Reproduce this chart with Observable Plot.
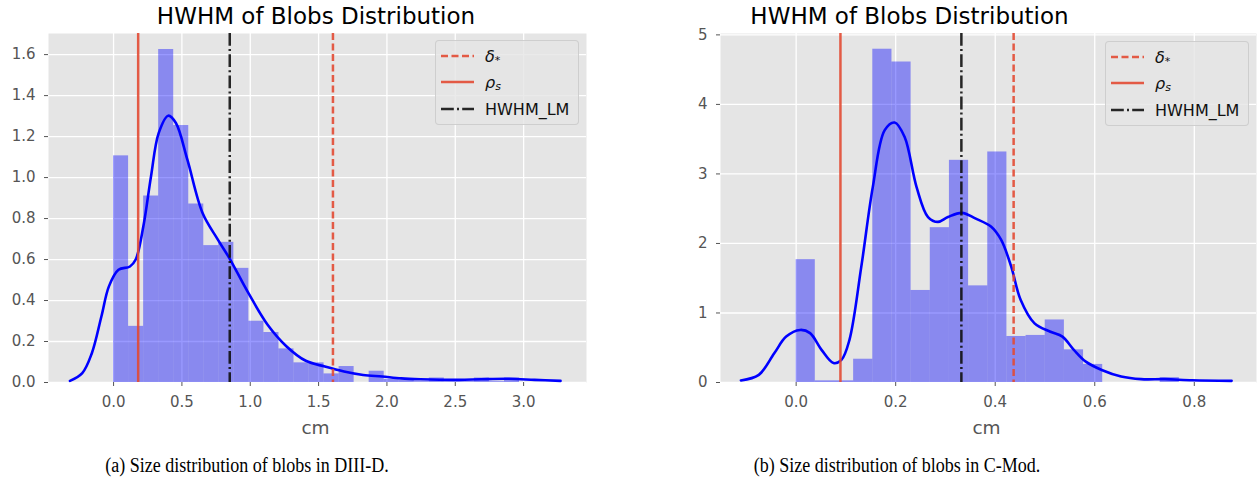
<!DOCTYPE html>
<html><head><meta charset="utf-8">
<script src="https://cdn.jsdelivr.net/npm/d3@7"></script>
<script src="https://cdn.jsdelivr.net/npm/@observablehq/plot@0.6"></script>
<style>
body{margin:0;background:#fff;}
#root{position:relative;width:1258px;height:496px;overflow:hidden;font-family:"DejaVu Sans";}
.panel{position:absolute;top:0;}
.legend{position:absolute;background:rgba(229,229,229,0.8);border:1px solid rgba(200,200,200,0.8);border-radius:4px;box-sizing:border-box;width:144px;height:85px;}
.row{position:absolute;left:0;height:20px;display:flex;align-items:center;font-family:"DejaVu Sans";font-size:16px;color:#111;white-space:nowrap;}
.row svg{margin-left:5px;margin-right:11px;}
.math{font-style:italic;}
.sub{font-size:11px;position:relative;top:4px;}
.caption{position:absolute;top:454px;line-height:22px;font-family:"Liberation Serif";font-size:20px;color:#000;white-space:nowrap;transform:translateX(-50%) scaleX(0.9);}
</style></head>
<body><div id="root"></div>
<script>
// ---------- data ----------
const chartTitle = "HWHM of Blobs Distribution";
const axisLabel = "cm";
const legendLabels = ["δ*", "ρs", "HWHM_LM"];
const captions = ["(a) Size distribution of blobs in DIII-D.", "(b) Size distribution of blobs in C-Mod."];

// Panel A (DIII-D)
const xTicksA = [0, 0.5, 1.0, 1.5, 2.0, 2.5, 3.0];
const yTicksA = [0, 0.2, 0.4, 0.6, 0.8, 1.0, 1.2, 1.4, 1.6];
const binStartA = 0.0;
const binWidthA = 0.11;
const densityA = [1.106, 0.274, 0.91, 1.625, 1.254, 0.871, 0.668, 0.684, 0.557, 0.299, 0.244, 0.164, 0.096, 0.096, 0.042, 0.078, 0.0, 0.055, 0.015, 0.012, 0.004, 0.022, 0.004, 0.004, 0.022, 0.004, 0.022];
const kdeXA = [-0.319, -0.229, -0.159, -0.089, -0.034, 0.036, 0.12, 0.162, 0.218, 0.274, 0.33, 0.40, 0.456, 0.54, 0.651, 0.763, 0.847, 0.987, 1.127, 1.266, 1.406, 1.546, 1.686, 1.826, 1.965, 2.105, 2.245, 2.525, 2.69, 2.89, 3.08, 3.27];
const kdeYA = [0.008, 0.046, 0.143, 0.322, 0.469, 0.55, 0.566, 0.6, 0.762, 1.006, 1.217, 1.302, 1.266, 1.087, 0.827, 0.697, 0.607, 0.436, 0.282, 0.176, 0.106, 0.078, 0.054, 0.037, 0.029, 0.02, 0.016, 0.013, 0.016, 0.018, 0.013, 0.008];
const refLinesA = [1.605, 0.18, 0.85]; // delta*, rho_s, HWHM_LM

// Panel B (C-Mod)
const xTicksB = [0, 0.2, 0.4, 0.6, 0.8];
const yTicksB = [0, 1, 2, 3, 4, 5];
const binStartB = 0.0;
const binWidthB = 0.0385;
const densityB = [1.767, 0.024, 0.024, 0.335, 4.794, 4.61, 1.324, 2.227, 3.196, 1.39, 3.316, 0.662, 0.677, 0.9, 0.47, 0.26, 0.0, 0.0, 0.0, 0.07];
const kdeXB = [-0.111, -0.075, -0.044, -0.02, 0.008, 0.028, 0.051, 0.075, 0.091, 0.107, 0.131, 0.154, 0.178, 0.198, 0.218, 0.242, 0.265, 0.285, 0.305, 0.333, 0.36, 0.392, 0.412, 0.432, 0.451, 0.479, 0.511, 0.535, 0.558, 0.582, 0.614, 0.653, 0.693, 0.741, 0.796, 0.875];
const kdeYB = [0.03, 0.11, 0.42, 0.66, 0.756, 0.71, 0.47, 0.28, 0.325, 0.61, 1.67, 2.81, 3.63, 3.74, 3.53, 2.81, 2.38, 2.31, 2.38, 2.44, 2.36, 2.24, 2.05, 1.67, 1.19, 0.85, 0.73, 0.66, 0.47, 0.30, 0.18, 0.086, 0.048, 0.048, 0.033, 0.024];
const refLinesB = [0.437, 0.089, 0.332];

// ---------- styles ----------
const RED = "#E24A33";
const lineStyles = [
  {stroke: RED, dash: "7,3.5"},
  {stroke: RED, dash: null},
  {stroke: "#111", dash: "12.8,3.2,2,3.2"}
];

function makePanel(cfg) {
  const bins = cfg.density.map((v, i) => ({x1: cfg.binStart + i * cfg.binWidth, x2: cfg.binStart + (i + 1) * cfg.binWidth, v}));
  const kde = cfg.kdeX.map((x, i) => ({x, y: cfg.kdeY[i]}));
  const rules = cfg.refLines.map((x, i) => ({x, i}));
  return Plot.plot({
    width: cfg.width, height: 440,
    marginLeft: cfg.marginLeft, marginRight: cfg.marginRight, marginTop: 33, marginBottom: 58,
    style: {fontFamily: "DejaVu Sans", fontSize: "15px", color: "#555", background: "transparent", overflow: "visible"},
    x: {domain: cfg.xDomain},
    y: {domain: cfg.yDomain},
    marks: [
      Plot.frame({fill: "#e5e5e5", stroke: null}),
      Plot.gridX(cfg.xTicks, {stroke: "#fff", strokeOpacity: 1, strokeWidth: 1.3}),
      Plot.gridY(cfg.yTicks, {stroke: "#fff", strokeOpacity: 1, strokeWidth: 1.3}),
      Plot.rect(bins, {x1: "x1", x2: "x2", y1: 0, y2: "v", fill: "blue", fillOpacity: 0.4}),
      Plot.line(kde, {x: "x", y: "y", stroke: "blue", strokeWidth: 2.6, curve: "catmull-rom"}),
      ...rules.map(r => Plot.ruleX([r.x], {stroke: lineStyles[r.i].stroke, strokeWidth: 2.5, strokeOpacity: 0.9, strokeDasharray: lineStyles[r.i].dash})),
      Plot.axisX(cfg.xTicks, {tickFormat: d3.format(".1f"), tickSize: 4, tickPadding: 10, label: null, stroke: "#555", fill: "#555"}),
      Plot.axisY(cfg.yTicks, {tickFormat: cfg.yFormat, tickSize: 4, tickPadding: 9, label: null, stroke: "#555", fill: "#555"}),
      Plot.text([axisLabel], {frameAnchor: "bottom", lineAnchor: "bottom", dy: 51, dx: cfg.labelDx, fontSize: 18.5, fill: "#555"}),
      Plot.text([chartTitle], {frameAnchor: "top", lineAnchor: "bottom", dy: -10, dx: cfg.titleDx, fontSize: 23, fill: "#000"})
    ]
  });
}

const root = document.getElementById("root");
const panels = [
  {left: 0, width: 600, marginLeft: 48, marginRight: 14, xDomain: [-0.476, 3.46], yDomain: [0, 1.703],
   xTicks: xTicksA, yTicks: yTicksA, yFormat: d3.format(".1f"), binStart: binStartA, binWidth: binWidthA,
   density: densityA, kdeX: kdeXA, kdeY: kdeYA, refLines: refLinesA, titleDx: -1.5, labelDx: -2,
   legendLeft: 435, legendTop: 40, caption: captions[0], captionX: 247},
  {left: 640, width: 618, marginLeft: 80, marginRight: 2, xDomain: [-0.152, 0.925], yDomain: [0, 5.02],
   xTicks: xTicksB, yTicks: yTicksB, yFormat: d3.format("d"), binStart: binStartB, binWidth: binWidthB,
   density: densityB, kdeX: kdeXB, kdeY: kdeYB, refLines: refLinesB, titleDx: -79, labelDx: -2,
   legendLeft: 1105, legendTop: 41, caption: captions[1], captionX: 897}
];

panels.forEach(cfg => {
  const wrap = document.createElement("div");
  wrap.className = "panel";
  wrap.style.left = cfg.left + "px";
  wrap.appendChild(makePanel(cfg));
  root.appendChild(wrap);

  // legend
  const lg = document.createElement("div");
  lg.className = "legend";
  lg.style.left = cfg.legendLeft + "px";
  lg.style.top = cfg.legendTop + "px";
  const rowTops = [5, 31, 58];
  legendLabels.forEach((lab, i) => {
    const row = document.createElement("div");
    row.className = "row";
    row.style.top = rowTops[i] + "px";
    const st = lineStyles[i];
    row.innerHTML = `<svg width="33" height="10"><line x1="0" x2="33" y1="5" y2="5" stroke="${st.stroke}" stroke-opacity="0.9" stroke-width="2.5" ${st.dash ? `stroke-dasharray="${st.dash}"` : ""}/></svg>` +
      (i === 0 ? `<span class="math">δ</span><span class="sub">*</span>` :
       i === 1 ? `<span class="math">ρ</span><span class="sub math">s</span>` : `<span>${lab}</span>`);
    lg.appendChild(row);
  });
  root.appendChild(lg);

  const cap = document.createElement("div");
  cap.className = "caption";
  cap.style.left = cfg.captionX + "px";
  cap.textContent = cfg.caption;
  root.appendChild(cap);
});
</script>
</body></html>
